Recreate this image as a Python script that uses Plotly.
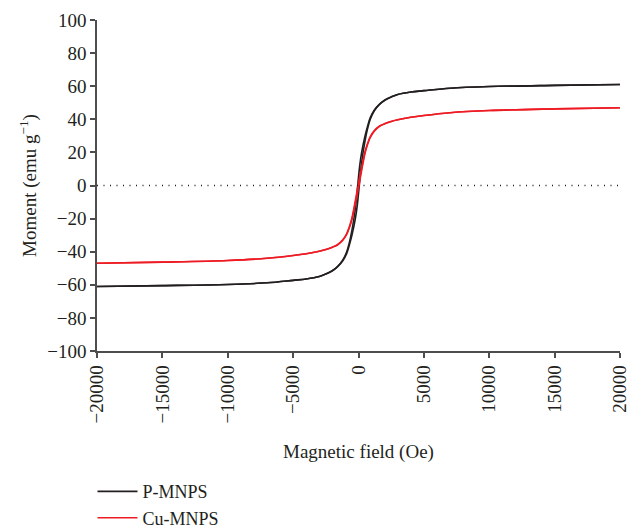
import plotly.graph_objects as go

# Field grid (Oe)
field = [-20000, -15000, -10000, -7000, -5000, -4000, -3000, -2500, -2000, -1600, -1200, -900, -700, -500,
         -250, -100, 0, 100, 250, 500, 700, 900, 1200, 1600, 2000, 2500, 3000, 4000, 5000, 7000, 10000, 15000, 20000]

# P-MNPS (emu/g): ascending and descending branches
p_up = [-61, -60.5, -59.8, -58.8, -57.3, -56.5, -55, -53.5, -51.5, -49, -45.5, -41, -36, -30,
        -20.5, -12.5, -5, 3.2, 14.5, 27, 34.5, 40, 45, 49, 51.5, 53.5, 55, 56.5, 57.3, 58.8, 59.8, 60.5, 61]
p_down = [-61, -60.5, -59.8, -58.8, -57.3, -56.5, -55, -53.5, -51.5, -49, -45, -40, -34.5, -27,
          -14.5, -3.2, 5, 12.5, 20.5, 30, 36, 41, 45.5, 49, 51.5, 53.5, 55, 56.5, 57.3, 58.8, 59.8, 60.5, 61]

# Cu-MNPS (emu/g)
cu_up = [-47, -46.3, -45.3, -44, -42.3, -41.2, -39.7, -38.7, -37.3, -35.8, -33, -29.5, -25.5, -20.5,
         -11, -5.5, -1.5, 3, 9.5, 19.5, 25, 29, 32.8, 35.8, 37.3, 38.7, 39.7, 41.2, 42.3, 44, 45.3, 46.3, 47]
cu_down = [-47, -46.3, -45.3, -44, -42.3, -41.2, -39.7, -38.7, -37.3, -35.8, -32.8, -29, -25, -19.5,
           -9.5, -3, 1.5, 5.5, 11, 20.5, 25.5, 29.5, 33, 35.8, 37.3, 38.7, 39.7, 41.2, 42.3, 44, 45.3, 46.3, 47]

x_ticks = [-20000, -15000, -10000, -5000, 0, 5000, 10000, 15000, 20000]
y_ticks = [-100, -80, -60, -40, -20, 0, 20, 40, 60, 80, 100]

font_family = "Liberation Serif, Times New Roman, serif"
txt = "#231f20"
FS = 19

fig = go.Figure()
line_p = dict(color="#231f20", width=1.6, shape="spline", smoothing=1)
line_c = dict(color="#ed1c24", width=1.6, shape="spline", smoothing=1)
fig.add_trace(go.Scatter(x=field, y=p_up, mode="lines", name="P-MNPS", line=line_p, legendgroup="p"))
fig.add_trace(go.Scatter(x=field[::-1], y=p_down[::-1], mode="lines", name="P-MNPS", line=line_p,
                         legendgroup="p", showlegend=False))
fig.add_trace(go.Scatter(x=field, y=cu_up, mode="lines", name="Cu-MNPS", line=line_c, legendgroup="c"))
fig.add_trace(go.Scatter(x=field[::-1], y=cu_down[::-1], mode="lines", name="Cu-MNPS", line=line_c,
                         legendgroup="c", showlegend=False))

fig.add_shape(type="line", xref="paper", yref="y", x0=0, x1=1, y0=0, y1=0,
              line=dict(color="#231f20", width=1.5, dash="1px,5.5px"))

fig.update_layout(
    width=629, height=530,
    margin=dict(l=97, r=9, t=20, b=179, autoexpand=False),
    paper_bgcolor="white", plot_bgcolor="white",
    font=dict(family=font_family, size=FS, color=txt),
    showlegend=True,
    legend=dict(x=-0.0086, y=-0.369, xanchor="left", yanchor="top",
                font=dict(family=font_family, size=18, color=txt),
                tracegroupgap=0, itemwidth=40, bgcolor="rgba(0,0,0,0)"),
    xaxis=dict(range=[-20001, 20001], tickvals=x_ticks,
               ticktext=[str(v).replace("-", "\u2212") for v in x_ticks],
               tickangle=-90, showgrid=False, zeroline=False, showline=True, linecolor="#4d4d4d",
               linewidth=1.5, ticks="outside", ticklen=5, tickcolor="#4d4d4d", tickwidth=1.5,
               automargin=False, ticklabeloverflow="allow",
               title=dict(text="Magnetic field (Oe)", font=dict(size=FS), standoff=22)),
    yaxis=dict(range=[-100, 100], tickvals=y_ticks,
               ticktext=[str(v).replace("-", "\u2212") for v in y_ticks],
               showgrid=False, zeroline=False, showline=True, linecolor="#4d4d4d",
               linewidth=1.5, ticks="outside", ticklen=5, tickcolor="#4d4d4d", tickwidth=1.5,
               automargin=False,
               title=dict(text="Moment (emu g<sup>\u22121</sup>)", font=dict(size=FS), standoff=6)),
)

fig.write_html("out.html")
